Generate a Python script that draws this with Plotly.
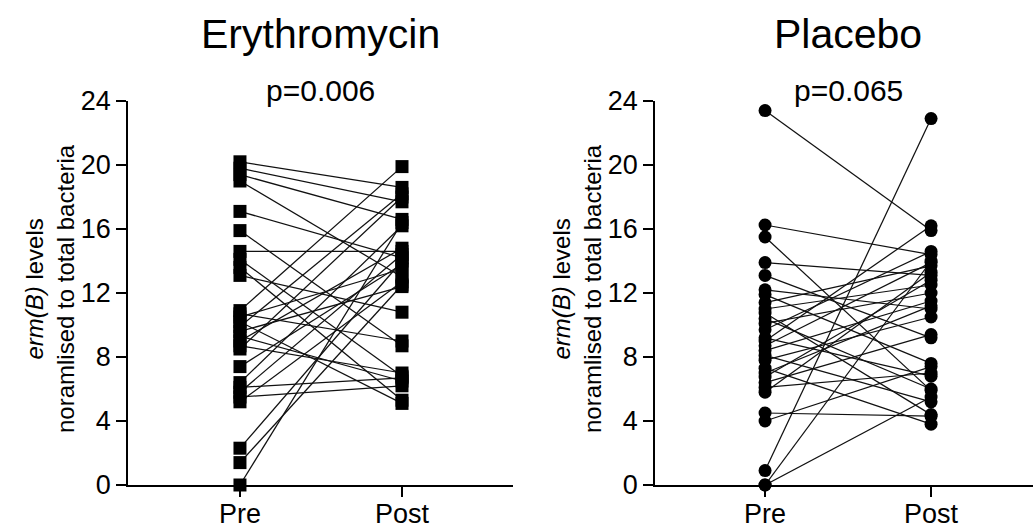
import plotly.graph_objects as go

W, H = 1033, 529

# ---- data -------------------------------------------------------------
timepoints = ["Pre", "Post"]
y_ticks = [0, 4, 8, 12, 16, 20, 24]

ery_pre = [20.2, 19.8, 19.4, 19.0, 17.1, 15.9, 14.6, 14.1, 13.6, 13.1,
           10.9, 10.5, 10.2, 9.9, 9.6, 9.3, 9.0, 8.7, 8.5, 7.4,
           6.4, 6.1, 5.8, 5.5, 5.2, 2.3, 1.4, 0.0, 10.7]
ery_post = [18.6, 17.7, 16.6, 13.0, 14.2, 8.7, 14.6, 6.8, 5.3, 10.8,
            19.9, 13.5, 5.1, 18.2, 12.4, 6.5, 14.8, 7.0, 18.0, 13.8,
            16.2, 6.7, 14.4, 6.2, 12.7, 14.0, 12.5, 16.4, 9.0]

pla_pre = [23.4, 16.25, 15.5, 13.9, 13.1, 12.2, 11.9, 11.4, 10.75, 10.1,
           9.7, 9.2, 9.0, 8.4, 7.8, 7.3, 6.75, 6.4, 5.8, 4.5,
           4.0, 0.9, 0.0, 0.0, 11.0, 10.4, 8.7, 8.1, 7.0, 6.1]
pla_post = [15.9, 14.4, 5.9, 13.1, 9.2, 11.0, 7.6, 13.7, 4.4, 12.0,
            14.6, 6.8, 16.2, 11.5, 10.5, 3.8, 12.8, 9.4, 13.3, 4.3,
            7.4, 22.9, 14.0, 5.5, 12.5, 6.0, 13.9, 5.2, 11.2, 7.0]

titles = ["Erythromycin", "Placebo"]
pvalues = ["p=0.006", "p=0.065"]
ytitle = "<i>erm(B)</i> levels<br>noramlised to total bacteria"

FONT = "Liberation Sans, Arial, sans-serif"

fig = go.Figure()


def add_panel(pre, post, symbol, xa, ya):
    lx, ly = [], []
    for a, b in zip(pre, post):
        lx += [0, 1, None]
        ly += [a, b, None]
    fig.add_trace(go.Scatter(x=lx, y=ly, mode="lines", xaxis=xa, yaxis=ya,
                             line=dict(color="#111111", width=1.25),
                             hoverinfo="skip", showlegend=False,
                             cliponaxis=False))
    fig.add_trace(go.Scatter(x=[0] * len(pre) + [1] * len(post),
                             y=list(pre) + list(post), mode="markers",
                             xaxis=xa, yaxis=ya,
                             marker=dict(symbol=symbol, size=13, color="black",
                                         line=dict(width=0)),
                             showlegend=False, cliponaxis=False))


add_panel(ery_pre, ery_post, "square", "x", "y")
add_panel(pla_pre, pla_post, "circle", "x2", "y2")

# axis geometry (pixels -> paper)
y_dom = [(H - 485) / H, (H - 101) / H]
left_dom = [128 / W, 513 / W]
right_dom = [655 / W, 1.0]

xcommon = dict(tickmode="array", tickvals=[0, 1], ticktext=timepoints,
               showline=True, linecolor="black", linewidth=1.5,
               ticks="outside", ticklen=10, tickwidth=1.5, tickcolor="black",
               showgrid=False, zeroline=False, automargin=False,
               ticklabelstandoff=-6,
               tickfont=dict(family=FONT, size=27, color="black"))
ycommon = dict(range=[0, 24], tickmode="array", tickvals=y_ticks,
               showline=True, linecolor="black", linewidth=1.5,
               ticks="outside", ticklen=10, tickwidth=1.5, tickcolor="black",
               showgrid=False, zeroline=False, automargin=False,
               tickfont=dict(family=FONT, size=27, color="black"),
               domain=y_dom)

fig.update_layout(
    width=W, height=H, autosize=False,
    margin=dict(l=0, r=0, t=0, b=0, pad=0, autoexpand=False),
    paper_bgcolor="white", plot_bgcolor="white",
    font=dict(family=FONT, color="black"),
    xaxis=dict(domain=left_dom, range=[-0.691, 1.685], anchor="y", **xcommon),
    yaxis=dict(anchor="x", **ycommon),
    xaxis2=dict(domain=right_dom, range=[-0.663, 1.614], anchor="y2", **xcommon),
    yaxis2=dict(anchor="x2", **ycommon),
)

annotations = []
for i, (xr, ax_left) in enumerate([("x", 128), ("x2", 655)]):
    annotations.append(dict(text=titles[i], xref=xr, x=0.5, yref="paper",
                            y=(H - 34) / H, yanchor="middle", xanchor="center",
                            showarrow=False,
                            font=dict(family=FONT, size=41, color="black")))
    annotations.append(dict(text=pvalues[i], xref=xr, x=0.5, yref="paper",
                            y=(H - 91) / H, yanchor="middle", xanchor="center",
                            showarrow=False,
                            font=dict(family=FONT, size=30, color="black")))
    annotations.append(dict(text=ytitle, xref="paper", x=(ax_left - 78) / W,
                            yref="paper", y=(H - 289) / H, textangle=-90,
                            xanchor="center", yanchor="middle", showarrow=False,
                            font=dict(family=FONT, size=24, color="black")))
fig.update_layout(annotations=annotations)

fig.write_html("out.html", config={"displayModeBar": False},
               post_script="document.body.style.margin='0';document.body.style.overflow='hidden';")
